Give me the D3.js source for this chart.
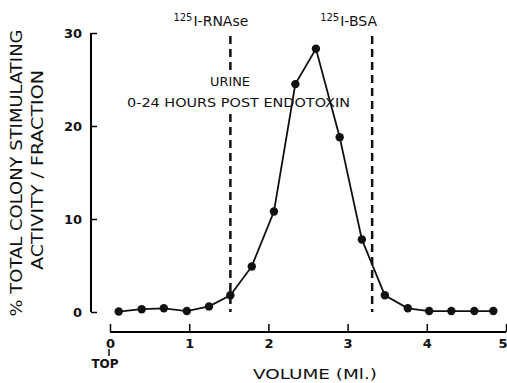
<!DOCTYPE html>
<html>
<head>
<meta charset="utf-8">
<script src="https://cdn.jsdelivr.net/npm/d3@7"></script>
<style>
  body { margin: 0; background: #fff; }
  svg { display: block; }
  text { font-family: "DejaVu Sans", sans-serif; fill: #111; }
</style>
</head>
<body>
<div id="chart"></div>
<script>
// chart size
const width = 507,
      height = 383;

// data
const volume   = [0.11, 0.40, 0.68, 0.97, 1.25, 1.52, 1.79, 2.07, 2.34, 2.60, 2.90, 3.18, 3.47, 3.76, 4.03, 4.31, 4.60, 4.84];
const activity = [0.05, 0.3, 0.4, 0.1, 0.6, 1.8, 4.9, 10.8, 24.5, 28.3, 18.8, 7.8, 1.8, 0.4, 0.1, 0.1, 0.1, 0.1];
const xTicks = [0, 1, 2, 3, 4, 5];
const yTicks = [0, 10, 20, 30];
const markerNames = ["RNAse", "BSA"];
const markerVolumes = [1.52, 3.31];

const svg = d3.select("#chart")
              .append("svg")
                .attr("width", width)
                .attr("height", height);

// scales
const xScale = d3.scaleLinear().domain([0, 5]).range([110, 506]);
const yScale = d3.scaleLinear().domain([0, 30]).range([312, 33]);

const axisY = 332;   // x axis sits below the zero line

// y axis (ticks point inward)
const yAxis = svg.append("g")
  .attr("transform", "translate(91,0)")
  .call(d3.axisRight(yScale).tickValues(yTicks).tickSize(6).tickFormat(d3.format("d")));
yAxis.select(".domain").attr("d", "M0," + yScale(30) + "V" + yScale(0)).attr("stroke-width", 2);
yAxis.selectAll(".tick line").attr("stroke-width", 1.5);
yAxis.selectAll(".tick text")
  .attr("x", -9)
  .attr("text-anchor", "end")
  .style("font-size", "13px")
  .style("font-weight", "bold");

// x axis (ticks point up)
const xAxis = svg.append("g")
  .attr("transform", "translate(0," + axisY + ")")
  .call(d3.axisTop(xScale).tickValues(xTicks).tickSize(8).tickFormat(d3.format("d")));
xAxis.select(".domain").attr("d", "M" + xScale(0) + ",0H" + xScale(5)).attr("stroke-width", 2);
xAxis.selectAll(".tick line").attr("stroke-width", 1.5);
xAxis.selectAll(".tick text")
  .attr("y", 16)
  .attr("dy", 0)
  .style("font-size", "13px")
  .style("font-weight", "bold");
// last label sits at the right edge, keep it inside
xAxis.selectAll(".tick text").filter(d => d === 5).attr("text-anchor", "end").attr("x", 1);

// "TOP" under the zero
svg.append("line")
  .attr("x1", xScale(0) - 1).attr("x2", xScale(0) - 1)
  .attr("y1", 349).attr("y2", 356)
  .attr("stroke", "#111").attr("stroke-width", 1.5);
svg.append("text")
  .attr("x", xScale(0) - 5)
  .attr("y", 368)
  .attr("text-anchor", "middle")
  .style("font-size", "12px")
  .style("font-weight", "bold")
  .text("TOP");

// marker protein lines
svg.selectAll(".marker")
  .data(markerVolumes)
  .enter()
  .append("line")
    .attr("class", "marker")
    .attr("x1", d => xScale(d)).attr("x2", d => xScale(d))
    .attr("y1", 36).attr("y2", yScale(0))
    .attr("stroke", "#111")
    .attr("stroke-width", 2.5)
    .attr("stroke-dasharray", "8,5");

// marker labels
markerNames.forEach(function(name, i) {
  const t = svg.append("text")
    .attr("x", xScale(markerVolumes[i]) - (i === 0 ? 57 : 52))
    .attr("y", 26)
    .style("font-size", "14px");
  t.append("tspan").attr("dy", -5).style("font-size", "10px").text("125");
  t.append("tspan").attr("dy", 5).attr("dx", 1).text("I-" + name);
});

// the dashed line is broken where the annotation sits
svg.append("rect")
  .attr("x", xScale(markerVolumes[0]) - 4)
  .attr("y", 70)
  .attr("width", 8)
  .attr("height", 42)
  .attr("fill", "#fff");

// annotation
svg.append("text")
  .attr("x", 230).attr("y", 86)
  .attr("text-anchor", "middle")
  .attr("textLength", 40)
  .attr("lengthAdjust", "spacingAndGlyphs")
  .style("font-size", "12px")
  .text("URINE");
svg.append("text")
  .attr("x", 127).attr("y", 107)
  .attr("textLength", 223)
  .attr("lengthAdjust", "spacingAndGlyphs")
  .style("font-size", "12px")
  .text("0-24 HOURS POST ENDOTOXIN");

// curve
const line = d3.line()
  .x((d, i) => xScale(volume[i]))
  .y(d => yScale(d));

svg.append("path")
  .datum(activity)
  .attr("fill", "none")
  .attr("stroke", "#111")
  .attr("stroke-width", 1.8)
  .attr("d", line);

svg.selectAll(".dot")
  .data(activity)
  .enter()
  .append("circle")
    .attr("class", "dot")
    .attr("cx", (d, i) => xScale(volume[i]))
    .attr("cy", d => yScale(d))
    .attr("r", 4.2)
    .attr("fill", "#111");

// axis labels
svg.append("text")
  .attr("x", 315).attr("y", 379)
  .attr("text-anchor", "middle")
  .attr("textLength", 124)
  .attr("lengthAdjust", "spacingAndGlyphs")
  .style("font-size", "14px")
  .text("VOLUME (Ml.)");

svg.append("text")
  .attr("transform", "translate(22,173) rotate(-90)")
  .attr("text-anchor", "middle")
  .attr("textLength", 287)
  .attr("lengthAdjust", "spacingAndGlyphs")
  .style("font-size", "15px")
  .text("% TOTAL COLONY STIMULATING");
svg.append("text")
  .attr("transform", "translate(43,170) rotate(-90)")
  .attr("text-anchor", "middle")
  .attr("textLength", 200)
  .attr("lengthAdjust", "spacingAndGlyphs")
  .style("font-size", "15px")
  .text("ACTIVITY / FRACTION");
</script>
</body>
</html>
